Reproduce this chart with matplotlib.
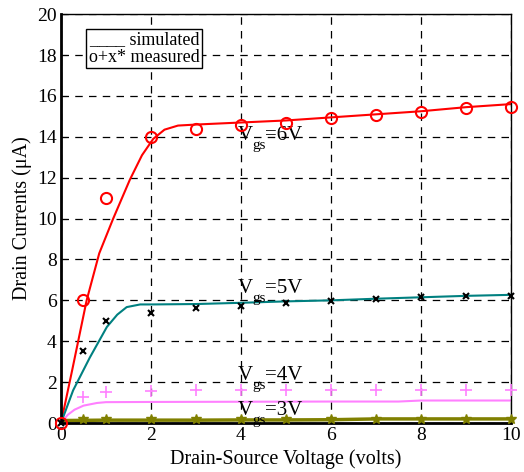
import matplotlib
matplotlib.use("Agg")
import matplotlib.pyplot as plt

plt.rcParams['font.family'] = ['Liberation Serif', 'DejaVu Serif']

# simulated curves
x_sim6 = [0, 0.25, 0.57, 0.85, 1.16, 1.53, 1.8, 2.05, 2.3, 2.6, 3, 4, 5, 6, 7, 8, 9, 10]
y_sim6 = [0, 2.6, 6.0, 8.3, 10.0, 11.9, 13.1, 13.9, 14.35, 14.55, 14.6, 14.7, 14.8, 14.95, 15.1, 15.25, 15.45, 15.6]

x_sim5 = [0, 0.27, 0.64, 1.02, 1.25, 1.46, 1.76, 2, 3, 4, 5, 6, 7, 8, 9, 10]
y_sim5 = [0, 1.6, 3.2, 4.7, 5.3, 5.67, 5.8, 5.8, 5.82, 5.88, 5.95, 6.0, 6.08, 6.15, 6.22, 6.27]

x_sim4 = [0, 0.15, 0.3, 0.5, 0.8, 1, 2, 4, 6, 7.5, 8, 10]
y_sim4 = [0, 0.4, 0.65, 0.85, 0.98, 1.02, 1.03, 1.04, 1.05, 1.05, 1.1, 1.1]

x_sim3 = [0, 1, 2, 3, 4, 5, 6, 7, 8, 9, 10]
y_sim3 = [0.12, 0.14, 0.14, 0.14, 0.15, 0.15, 0.16, 0.2, 0.2, 0.2, 0.2]

# measured points
x_meas = [0, 0.5, 1, 2, 3, 4, 5, 6, 7, 8, 9, 10]
y_meas6 = [0, 6.0, 11.0, 14.0, 14.4, 14.6, 14.7, 14.9, 15.05, 15.2, 15.4, 15.45]
y_meas5 = [0, 3.5, 5.0, 5.4, 5.65, 5.7, 5.85, 5.95, 6.05, 6.15, 6.2, 6.2]
y_meas4 = [0, 1.25, 1.5, 1.58, 1.6, 1.6, 1.6, 1.6, 1.6, 1.6, 1.6, 1.6]
y_meas3 = [0, 0.2, 0.2, 0.2, 0.2, 0.2, 0.2, 0.2, 0.2, 0.2, 0.2, 0.2]

labels = ['6', '5', '4', '3']
label_y = [13.85, 6.36, 2.1, 0.39]
label_x = 3.93

red = '#ff0000'
teal = '#008080'
pink = '#ff80ff'
olive = '#808000'

fig = plt.figure(figsize=(5.24, 4.72), dpi=100)
ax = fig.add_axes([0.1164, 0.1038, 0.8588, 0.8662])

ax.plot(x_sim6, y_sim6, color=red, lw=1.5)
ax.plot(x_sim5, y_sim5, color=teal, lw=1.5)
ax.plot(x_sim4, y_sim4, color=pink, lw=1.5)
ax.plot(x_sim3, y_sim3, color=olive, lw=2.5)

ax.plot(x_meas, y_meas6, 'o', mfc='none', mec=red, ms=8, mew=1.5, clip_on=False, zorder=5)
ax.plot(x_meas, y_meas5, 'x', color='black', ms=4, mew=1.5, clip_on=False, zorder=5)
ax.plot(x_meas[1:], y_meas4[1:], '+', color=pink, ms=9, mew=1.2, clip_on=False, zorder=5)
ax.plot(x_meas[1:], y_meas3[1:], '*', color=olive, ms=7, clip_on=False, zorder=5)

# V_gs labels: big V, dropped "gs", then "=xV"
for lab, ly in zip(labels, label_y):
    ax.annotate('V', (label_x, ly), fontsize=15, va='baseline', ha='left')
    ax.annotate('gs', (label_x, ly), xytext=(10.5, -6.5), textcoords='offset points',
                fontsize=11, va='baseline', ha='left')
    ax.annotate('=' + lab + 'V', (label_x, ly), xytext=(19.5, 0), textcoords='offset points',
                fontsize=15, va='baseline', ha='left')

ax.set_xlim(0, 10)
ax.set_ylim(0, 20)
ax.set_xticks(range(0, 11, 2))
ax.set_yticks(range(0, 21, 2))
ax.tick_params(direction='in', labelsize=14, length=4, pad=3)
ax.grid(True, color='black', linestyle=(0, (6, 5)), lw=0.9)
ax.set_axisbelow(True)
for s in ['left', 'bottom']:
    ax.spines[s].set_linewidth(2)
for s in ['top', 'right']:
    ax.spines[s].set_linewidth(1)

ax.set_xlabel('Drain-Source Voltage (volts)', fontsize=14.5, labelpad=4)
ax.set_ylabel('Drain Currents (\u03bcA)', fontsize=14.5, labelpad=4)

ax.text(0.062, 0.916, '____ simulated\no+x* measured', transform=ax.transAxes,
        fontsize=13, va='center', ha='left', linespacing=1.0,
        bbox=dict(boxstyle='square,pad=0.15', fc='white', ec='black', lw=1))

fig.savefig('out.png', dpi=100)
